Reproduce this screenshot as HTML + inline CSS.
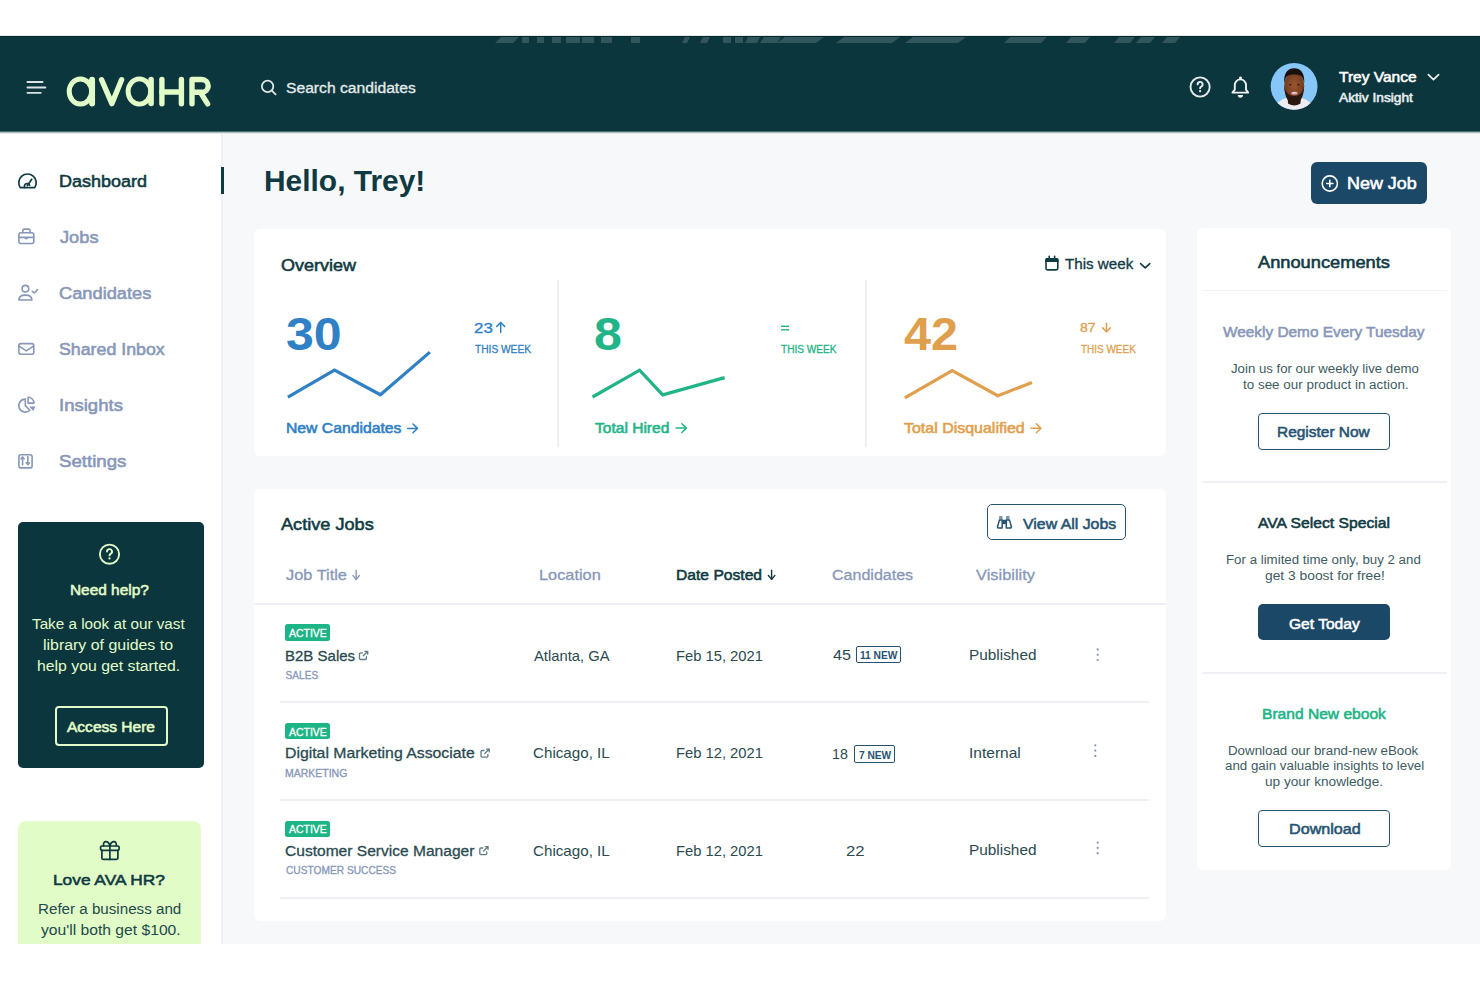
<!DOCTYPE html>
<html><head><meta charset="utf-8"><title>avaHR Dashboard</title>
<style>
*{margin:0;padding:0;box-sizing:border-box}
html,body{width:1480px;height:987px;overflow:hidden;background:#fff;font-family:"Liberation Sans",sans-serif}
.a{position:absolute}
.t{position:absolute;white-space:nowrap;line-height:1;transform-origin:0 0;font-family:"Liberation Sans",sans-serif}
svg.ov{position:absolute;left:0;top:0}
</style></head><body>
<!-- sidebar + main -->
<div class="a" style="left:0px;top:131px;width:221px;height:813px;background:#ffffff;border-radius:0px;"></div>
<div class="a" style="left:221px;top:131px;width:2px;height:813px;background:#eef0f4;border-radius:0px;"></div>
<div class="a" style="left:223px;top:131px;width:1257px;height:813px;background:#f7f8fa;border-radius:0px;"></div>
<!-- header -->
<div class="a" style="left:0px;top:36px;width:1480px;height:95px;background:#0c363d;border-radius:0px;"></div>
<div class="a" style="left:0px;top:35px;width:1480px;height:1px;background:#e4eaeb;border-radius:0px;"></div>
<div class="a" style="left:0px;top:36px;width:1480px;height:1px;background:#03292f;border-radius:0px;"></div>
<div class="a" style="left:0px;top:130px;width:1480px;height:1px;background:#08313a;border-radius:0px;"></div>
<div class="a" style="left:0px;top:131px;width:1480px;height:1px;background:#4b7176;border-radius:0px;"></div>
<div class="a" style="left:0px;top:132px;width:1480px;height:1px;background:#a9bbbe;border-radius:0px;"></div>
<div class="a" style="left:0px;top:133px;width:1480px;height:1px;background:#e6ebec;border-radius:0px;"></div>
<div class="a" style="left:254px;top:229px;width:912px;height:227px;background:#ffffff;border-radius:6px;"></div>
<div class="a" style="left:254px;top:489px;width:912px;height:432px;background:#ffffff;border-radius:6px;"></div>
<div class="a" style="left:1197px;top:228px;width:254px;height:642px;background:#ffffff;border-radius:6px;"></div>
<div class="a" style="left:18px;top:522px;width:186px;height:246px;background:#0c363d;border-radius:5px;"></div>
<div class="a" style="left:18px;top:821px;width:183px;height:123px;background:#e2fcc8;border-radius:8px;border-bottom-left-radius:0;border-bottom-right-radius:0"></div>
<div class="a" style="left:221px;top:167px;width:2.5px;height:27px;background:#0f3a42;border-radius:0px;"></div>
<div class="a" style="left:1311.4px;top:162.4px;width:115.8px;height:41.8px;background:#1c4868;border-radius:6px;"></div>
<div class="a" style="left:986.9px;top:504.2px;width:139.5px;height:36.3px;border:1.5px solid #275373;border-radius:5px"></div>
<div class="a" style="left:1258.4px;top:413px;width:131.6px;height:36.5px;border:1.5px solid #275373;border-radius:4px"></div>
<div class="a" style="left:1258.4px;top:603.6px;width:131.6px;height:36.8px;background:#1c4868;border-radius:5px;"></div>
<div class="a" style="left:1258.3px;top:810.3px;width:131.8px;height:36.6px;border:1.5px solid #275373;border-radius:4px"></div>
<div class="a" style="left:55.3px;top:706px;width:112.3px;height:40.1px;border:2px solid #e2fcc8;border-radius:4px"></div>
<div class="a" style="left:557.3px;top:280px;width:1.6px;height:167px;background:#eff0f5;border-radius:0px;"></div>
<div class="a" style="left:865.3px;top:280px;width:1.6px;height:167px;background:#eff0f5;border-radius:0px;"></div>
<div class="a" style="left:254px;top:602.5px;width:912px;height:2.8px;background:#eef0f5;border-radius:0px;"></div>
<div class="a" style="left:280px;top:701px;width:869px;height:2px;background:#eef0f5;border-radius:0px;"></div>
<div class="a" style="left:280px;top:799px;width:869px;height:2px;background:#eef0f5;border-radius:0px;"></div>
<div class="a" style="left:280px;top:897px;width:869px;height:2px;background:#eef0f5;border-radius:0px;"></div>
<div class="a" style="left:1202px;top:289.5px;width:245px;height:1.5px;background:#eff1f6;border-radius:0px;"></div>
<div class="a" style="left:1202px;top:481px;width:245px;height:1.5px;background:#eff1f6;border-radius:0px;"></div>
<div class="a" style="left:1202px;top:672px;width:245px;height:1.5px;background:#eff1f6;border-radius:0px;"></div>
<div class="a" style="left:285.2px;top:624.3px;width:44.7px;height:16.5px;background:#1db586;border-radius:2.5px;"></div>
<div class="a" style="left:285.2px;top:722.8px;width:44.7px;height:16.5px;background:#1db586;border-radius:2.5px;"></div>
<div class="a" style="left:285.2px;top:820.5px;width:44.7px;height:16.5px;background:#1db586;border-radius:2.5px;"></div>
<div class="a" style="left:856.1px;top:645.8px;width:45px;height:17px;border:1.3px solid #275373;border-radius:2px"></div>
<div class="a" style="left:853.9px;top:745.2px;width:40.7px;height:17.8px;border:1.3px solid #275373;border-radius:2px"></div>
<svg class="ov" width="1480" height="987" viewBox="0 0 1480 987">
<polygon points="501,37 519,37 513,43 495,43" fill="#ffffff" fill-opacity="0.16"/>
<polygon points="522,37 529,37 529,43 522,43" fill="#ffffff" fill-opacity="0.16"/>
<polygon points="537,37 544,37 544,43 537,43" fill="#ffffff" fill-opacity="0.16"/>
<polygon points="552,37 561,37 561,43 552,43" fill="#ffffff" fill-opacity="0.16"/>
<polygon points="566,37 580,37 580,43 566,43" fill="#ffffff" fill-opacity="0.16"/>
<polygon points="582,37 594,37 594,43 582,43" fill="#ffffff" fill-opacity="0.16"/>
<polygon points="601,37 612,37 612,43 601,43" fill="#ffffff" fill-opacity="0.16"/>
<polygon points="631,37 640,37 640,43 631,43" fill="#ffffff" fill-opacity="0.16"/>
<polygon points="685,37 690,37 687,43 682,43" fill="#ffffff" fill-opacity="0.16"/>
<polygon points="703,37 710,37 707,43 700,43" fill="#ffffff" fill-opacity="0.16"/>
<polygon points="723,37 731,37 731,43 723,43" fill="#ffffff" fill-opacity="0.16"/>
<polygon points="735,37 743,37 743,43 735,43" fill="#ffffff" fill-opacity="0.16"/>
<polygon points="748,37 760,37 757,43 745,43" fill="#ffffff" fill-opacity="0.16"/>
<polygon points="764,37 781,37 777,43 760,43" fill="#ffffff" fill-opacity="0.16"/>
<polygon points="785,37 824,37 816,43 777,43" fill="#ffffff" fill-opacity="0.16"/>
<polygon points="844,37 900,37 892,43 836,43" fill="#ffffff" fill-opacity="0.16"/>
<polygon points="913,37 966,37 958,43 905,43" fill="#ffffff" fill-opacity="0.16"/>
<polygon points="1010,37 1047,37 1041,43 1004,43" fill="#ffffff" fill-opacity="0.16"/>
<polygon points="1071,37 1090,37 1085,43 1066,43" fill="#ffffff" fill-opacity="0.16"/>
<polygon points="1119,37 1135,37 1130,43 1114,43" fill="#ffffff" fill-opacity="0.16"/>
<polygon points="1141,37 1155,37 1150,43 1136,43" fill="#ffffff" fill-opacity="0.16"/>
<polygon points="1167,37 1180,37 1175,43 1162,43" fill="#ffffff" fill-opacity="0.16"/>
<g stroke="#dde2e5" stroke-width="1.8" stroke-linecap="round"><line x1="27.4" y1="82" x2="42.6" y2="82"/><line x1="27.4" y1="87.5" x2="45.4" y2="87.5"/><line x1="27.4" y1="92.8" x2="40.8" y2="92.8"/></g>
<g fill="none" stroke="#e2fcc8" stroke-linecap="round" stroke-linejoin="round">
<ellipse cx="80.4" cy="91.5" rx="11.2" ry="12.6" stroke-width="5"/>
<line x1="92.1" y1="79.6" x2="92.1" y2="103.6" stroke-width="5.9"/>
<polyline points="101.6,79.7 111.9,103.6 121.6,79.7" stroke-width="5.4"/>
<ellipse cx="139.4" cy="91.5" rx="11.3" ry="12.6" stroke-width="4.9"/>
<line x1="151.1" y1="79.6" x2="151.1" y2="103.6" stroke-width="5.5"/>
<line x1="161.9" y1="79.5" x2="161.9" y2="103.8" stroke-width="5.4"/>
<line x1="181.4" y1="79.5" x2="181.4" y2="103.8" stroke-width="5.4"/>
<line x1="161.9" y1="92" x2="181.4" y2="92" stroke-width="5.4"/>
<path d="M192 103.8 V79.5 H201.8 A6.4 6.4 0 0 1 201.8 92.3 H192 M200.5 92.3 L207.6 103.8" stroke-width="5.4"/>
</g>
<g fill="none" stroke="#dfe5e7" stroke-width="1.8" stroke-linecap="round"><circle cx="267.6" cy="86.4" r="5.7"/><line x1="271.8" y1="90.6" x2="275.6" y2="94.4"/></g>
<g fill="none" stroke="#e6ecee" stroke-width="1.9" stroke-linecap="round"><circle cx="1200.1" cy="87" r="9.6"/><path d="M1197.6 84.4 a2.5 2.5 0 1 1 3.7 2.2 c-.85 .45 -1.2 .9 -1.2 1.6"/></g><circle cx="1200.1" cy="91.2" r="1.15" fill="#e6ecee"/>
<g fill="none" stroke="#eef2f3" stroke-width="1.9" stroke-linejoin="round"><path d="M1232.4 92.6 H1248.2 L1246 89.6 V85 A5.6 5.6 0 0 0 1234.8 85 V89.6 Z"/></g><rect x="1239.2" y="76.4" width="2.6" height="3.2" rx="1.2" fill="#eef2f3"/><path d="M1237.8 95.1 H1243 A2.6 2.6 0 0 1 1237.8 95.1 Z" fill="#eef2f3"/>
<defs><clipPath id="av"><circle cx="1294.1" cy="86.35" r="23.4"/></clipPath>
<radialGradient id="face" cx="50%" cy="45%" r="60%"><stop offset="0" stop-color="#9b5530"/><stop offset="1" stop-color="#6a361c"/></radialGradient></defs>
<circle cx="1294.1" cy="86.35" r="23.4" fill="#87c6f8"/>
<g clip-path="url(#av)">
<ellipse cx="1294" cy="114.5" rx="22" ry="17.5" fill="#efedef"/>
<path d="M1287.5 94 L1301 94 L1300.5 103.5 Q1294.2 107.5 1288 103.5 Z" fill="#2e1a12"/>
<ellipse cx="1294.2" cy="86.2" rx="10" ry="13.6" fill="url(#face)"/>
<path d="M1284.1 83 C1283.8 72.5 1287.8 68.2 1294.2 68.2 C1300.6 68.2 1304.6 72.5 1304.3 83 L1303.2 79.5 C1301.5 75.2 1298.5 74.6 1294.2 74.6 C1289.9 74.6 1286.9 75.2 1285.2 79.5 Z" fill="#1a110e"/>
<path d="M1284.3 86 C1284.5 97.5 1288.2 103.6 1294.2 103.6 C1300.2 103.6 1303.9 97.5 1304.1 86 C1302.8 92.8 1299.4 96 1294.2 96 C1289 96 1285.6 92.8 1284.3 86 Z" fill="#2a170f"/>
<ellipse cx="1294.4" cy="93.3" rx="3.6" ry="1.9" fill="#b77272"/>
<ellipse cx="1294.4" cy="92.9" rx="2.8" ry="0.9" fill="#e0d8da"/>
<ellipse cx="1290.2" cy="84.8" rx="1.2" ry="0.7" fill="#2a170f"/>
<ellipse cx="1298.4" cy="84.8" rx="1.2" ry="0.7" fill="#2a170f"/>
</g>
<polyline points="1428.4,74.6 1433.5,79.6 1438.6,74.6" fill="none" stroke="#f0f3f4" stroke-width="1.7" stroke-linecap="round" stroke-linejoin="round"/>
<g fill="none" stroke="#0f3a42" stroke-width="1.7" stroke-linecap="round" stroke-linejoin="round">
<path d="M20.3 187.6 A8.7 8.7 0 1 1 34.7 187.6 Z"/>
<line x1="27.4" y1="185.6" x2="31.7" y2="179.3"/>
<path d="M24.6 187.4 A2.7 2.7 0 0 1 29.6 185.2"/>
</g>
<g fill="none" stroke="#8797b9" stroke-width="1.6" stroke-linecap="round" stroke-linejoin="round">
<rect x="18.9" y="232.8" width="14.9" height="10.7" rx="2"/>
<path d="M22.8 232.8 V230.6 a1.5 1.5 0 0 1 1.5 -1.5 H28.6 a1.5 1.5 0 0 1 1.5 1.5 V232.8"/>
<line x1="18.9" y1="237.4" x2="33.8" y2="237.4"/>
<path d="M24.9 237.6 Q26.3 239.6 27.9 237.6"/>
<circle cx="25.4" cy="288.7" r="3.3"/>
<path d="M18.9 300 Q18.9 295.1 25.4 295.1 Q31.9 295.1 31.9 300 Z"/>
<path d="M32.3 291.3 L34.4 293 L37.5 289.5"/>
<rect x="18.9" y="343.6" width="14.9" height="10.7" rx="2"/>
<path d="M19.6 346.4 L26.3 350.9 L33.1 346.4"/>
<path d="M25.3 405.6 V399.1 A6.5 6.5 0 1 0 29.9 410.2 Z"/>
<path d="M28.1 403.1 V397.3 A5.9 5.9 0 0 1 34 403.1 Z"/>
<rect x="18.9" y="454.7" width="13.2" height="13.2" rx="2"/>
<line x1="22.6" y1="464.8" x2="22.6" y2="457.2"/><path d="M21.1 458.8 L22.6 457 L24.1 458.8"/>
<line x1="27.8" y1="456.6" x2="27.8" y2="464.4"/><path d="M26.3 462.8 L27.8 464.6 L29.3 462.8"/>
</g>
<polygon points="29.1,406.5 35.6,406.5 33.2,411.1" fill="#8797b9"/>
<g fill="none" stroke="#e2fcc8" stroke-width="1.9" stroke-linecap="round"><circle cx="109.5" cy="554.2" r="9.6"/><path d="M107.0 551.6 a2.5 2.5 0 1 1 3.7 2.2 c-.85 .45 -1.2 .9 -1.2 1.6"/></g><circle cx="109.5" cy="558.4000000000001" r="1.15" fill="#e2fcc8"/>
<g fill="none" stroke="#0f3a42" stroke-width="1.7" stroke-linecap="round" stroke-linejoin="round">
<rect x="100.6" y="846" width="18.5" height="4.3" rx="1.2"/>
<path d="M101.9 850.3 V857.9 a1.5 1.5 0 0 0 1.5 1.5 H116.4 a1.5 1.5 0 0 0 1.5 -1.5 V850.3"/>
<line x1="109.9" y1="846" x2="109.9" y2="859.3"/>
<path d="M109.9 846 C108.5 840.3 102.6 840.2 103.6 845.8"/>
<path d="M109.9 846 C111.3 840.3 117.2 840.2 116.2 845.8"/>
</g>
<g fill="none" stroke="#ffffff" stroke-width="1.6" stroke-linecap="round"><circle cx="1329.8" cy="183.5" r="7.6"/><line x1="1326.7" y1="183.5" x2="1332.9" y2="183.5"/><line x1="1329.8" y1="180.4" x2="1329.8" y2="186.6"/></g>
<g fill="none" stroke="#0f3a42" stroke-width="1.6" stroke-linecap="round">
<rect x="1046" y="258.8" width="11.8" height="11.1" rx="1.6"/>
<line x1="1049.2" y1="256.4" x2="1049.2" y2="259"/><line x1="1054.6" y1="256.4" x2="1054.6" y2="259"/></g>
<path d="M1045.2 262 V260 a2 2 0 0 1 2 -2 H1056.6 a2 2 0 0 1 2 2 V262 Z" fill="#0f3a42"/>
<polyline points="1140.6,263.6 1145.2,267.9 1149.8,263.6" fill="none" stroke="#0f3a42" stroke-width="1.6" stroke-linecap="round" stroke-linejoin="round"/>
<g fill="none" stroke="#2f80c4" stroke-width="1.5" stroke-linecap="round" stroke-linejoin="round"><line x1="407.70000000000005" y1="428.4" x2="417.4" y2="428.4"/><polyline points="413,424.0 417.4,428.4 413,432.79999999999995"/></g>
<g fill="none" stroke="#20b487" stroke-width="1.5" stroke-linecap="round" stroke-linejoin="round"><line x1="676.1" y1="428.1" x2="686.3" y2="428.1"/><polyline points="681.9,423.70000000000005 686.3,428.1 681.9,432.5"/></g>
<g fill="none" stroke="#e09f4c" stroke-width="1.5" stroke-linecap="round" stroke-linejoin="round"><line x1="1030.8999999999999" y1="428.3" x2="1040.8000000000002" y2="428.3"/><polyline points="1036.4,423.90000000000003 1040.8000000000002,428.3 1036.4,432.7"/></g>
<g fill="none" stroke="#2f80c4" stroke-width="1.5" stroke-linecap="round" stroke-linejoin="round"><line x1="500.7" y1="332.4" x2="500.7" y2="322.5"/><polyline points="496.8,326.4 500.7,322.5 504.59999999999997,326.4"/></g>
<g fill="none" stroke="#e09f4c" stroke-width="1.5" stroke-linecap="round" stroke-linejoin="round"><line x1="1106.5" y1="323.3" x2="1106.5" y2="331.79999999999995"/><polyline points="1102.6,327.9 1106.5,331.79999999999995 1110.4,327.9"/></g>
<g fill="none" stroke="#8797b9" stroke-width="1.4" stroke-linecap="round" stroke-linejoin="round"><line x1="356.2" y1="570.1" x2="356.2" y2="579.4"/><polyline points="353.0,575.5 356.2,579.4 359.4,575.5"/></g>
<g fill="none" stroke="#0f3a42" stroke-width="1.4" stroke-linecap="round" stroke-linejoin="round"><line x1="771.6" y1="570.1" x2="771.6" y2="579.4"/><polyline points="768.4,575.5 771.6,579.4 774.8000000000001,575.5"/></g>
<g stroke="#20b487" stroke-width="1.4"><line x1="781" y1="326.3" x2="789" y2="326.3"/><line x1="781" y1="329.8" x2="789" y2="329.8"/></g>
<polyline points="287.9,397.2 334.5,370.2 380.4,394.7 429.9,352.1" fill="none" stroke="#2f80c4" stroke-width="3.2"/>
<polyline points="592.5,397 639.6,370.2 662.7,394.9 724.6,377.6" fill="none" stroke="#20b487" stroke-width="3.2"/>
<polyline points="904.8,397.9 952.2,370.5 997.8,395.7 1032,382.5" fill="none" stroke="#e09f4c" stroke-width="3.2"/>
<g fill="none" stroke="#275373" stroke-width="1.5" stroke-linejoin="round">
<path d="M997.5 526.6 Q997.3 528 998.9 528 H1002.2 V520 H999.5 Z"/>
<path d="M1011.4 526.6 Q1011.6 528 1010 528 H1006.3 V520 H1009.4 Z"/>
</g><rect x="1002.2" y="519.8" width="4.1" height="4.3" fill="#275373"/>
<rect x="999" y="515.9" width="3.5" height="3.6" rx="0.6" fill="#275373" fill-opacity="0.6"/>
<rect x="1006" y="515.9" width="3.5" height="3.6" rx="0.6" fill="#275373" fill-opacity="0.6"/>
<g fill="none" stroke="#5f7b82" stroke-width="1.3" stroke-linecap="round" stroke-linejoin="round"><path d="M362.4 652.8000000000001 H360.59999999999997 a1.1 1.1 0 0 0 -1.1 1.1 V658.4000000000001 a1.1 1.1 0 0 0 1.1 1.1 H365.29999999999995 a1.1 1.1 0 0 0 1.1 -1.1 V656.6"/><line x1="363.29999999999995" y1="655.8000000000001" x2="367.59999999999997" y2="651.6"/><polyline points="365.0,651.5 367.7,651.5 367.7,654.2"/></g>
<g fill="none" stroke="#5f7b82" stroke-width="1.3" stroke-linecap="round" stroke-linejoin="round"><path d="M483.9 750.5 H482.09999999999997 a1.1 1.1 0 0 0 -1.1 1.1 V756.1 a1.1 1.1 0 0 0 1.1 1.1 H486.79999999999995 a1.1 1.1 0 0 0 1.1 -1.1 V754.3"/><line x1="484.79999999999995" y1="753.5" x2="489.09999999999997" y2="749.3"/><polyline points="486.5,749.1999999999999 489.2,749.1999999999999 489.2,751.9"/></g>
<g fill="none" stroke="#5f7b82" stroke-width="1.3" stroke-linecap="round" stroke-linejoin="round"><path d="M482.7 848.0 H480.9 a1.1 1.1 0 0 0 -1.1 1.1 V853.6 a1.1 1.1 0 0 0 1.1 1.1 H485.59999999999997 a1.1 1.1 0 0 0 1.1 -1.1 V851.8"/><line x1="483.59999999999997" y1="851.0" x2="487.9" y2="846.8"/><polyline points="485.3,846.6999999999999 488.0,846.6999999999999 488.0,849.4"/></g>
<circle cx="1097.7" cy="649.5" r="1.15" fill="#8797b9"/>
<circle cx="1097.7" cy="654.8" r="1.15" fill="#8797b9"/>
<circle cx="1097.7" cy="660.0999999999999" r="1.15" fill="#8797b9"/>
<circle cx="1095.3" cy="745.3000000000001" r="1.15" fill="#8797b9"/>
<circle cx="1095.3" cy="750.6" r="1.15" fill="#8797b9"/>
<circle cx="1095.3" cy="755.9" r="1.15" fill="#8797b9"/>
<circle cx="1097.7" cy="842.6" r="1.15" fill="#8797b9"/>
<circle cx="1097.7" cy="847.9" r="1.15" fill="#8797b9"/>
<circle cx="1097.7" cy="853.1999999999999" r="1.15" fill="#8797b9"/>
</svg>
<div class="t" style="left:286.1px;top:81px;font-size:14.04px;font-weight:400;-webkit-text-stroke:0.3px #e3eaeb;transform:scaleX(1.1165);color:#e3eaeb">Search candidates</div>
<div class="t" style="left:1338.9px;top:70px;font-size:14.77px;font-weight:400;-webkit-text-stroke:0.55px #ffffff;transform:scaleX(1.0513);color:#ffffff">Trey Vance</div>
<div class="t" style="left:1338.5px;top:93px;font-size:11.86px;font-weight:400;-webkit-text-stroke:0.55px #e6ecee;transform:scaleX(1.1563);color:#e6ecee">Aktiv Insight</div>
<div class="t" style="left:59.0px;top:174px;font-size:16.8px;font-weight:400;-webkit-text-stroke:0.55px #0f3a42;transform:scaleX(1.0726);color:#0f3a42">Dashboard</div>
<div class="t" style="left:60.0px;top:230px;font-size:16.8px;font-weight:400;-webkit-text-stroke:0.55px #8797b9;transform:scaleX(1.0857);color:#8797b9">Jobs</div>
<div class="t" style="left:59.0px;top:286px;font-size:16.8px;font-weight:400;-webkit-text-stroke:0.55px #8797b9;transform:scaleX(1.0881);color:#8797b9">Candidates</div>
<div class="t" style="left:59.0px;top:342px;font-size:16.8px;font-weight:400;-webkit-text-stroke:0.55px #8797b9;transform:scaleX(1.0585);color:#8797b9">Shared Inbox</div>
<div class="t" style="left:59.0px;top:398px;font-size:16.8px;font-weight:400;-webkit-text-stroke:0.55px #8797b9;transform:scaleX(1.1053);color:#8797b9">Insights</div>
<div class="t" style="left:59.0px;top:454px;font-size:16.8px;font-weight:400;-webkit-text-stroke:0.55px #8797b9;transform:scaleX(1.1121);color:#8797b9">Settings</div>
<div class="t" style="left:70.1px;top:583px;font-size:14.77px;font-weight:400;-webkit-text-stroke:0.55px #e2fcc8;transform:scaleX(1.0433);color:#e2fcc8">Need help?</div>
<div class="t" style="left:32.4px;top:618px;font-size:13.95px;font-weight:400;transform:scaleX(1.0951);color:#e2fcc8">Take a look at our vast</div>
<div class="t" style="left:43.3px;top:639px;font-size:13.95px;font-weight:400;transform:scaleX(1.1416);color:#e2fcc8">library of guides to</div>
<div class="t" style="left:36.7px;top:660px;font-size:13.95px;font-weight:400;transform:scaleX(1.1339);color:#e2fcc8">help you get started.</div>
<div class="t" style="left:67.4px;top:720px;font-size:14.04px;font-weight:400;-webkit-text-stroke:0.55px #e2fcc8;transform:scaleX(1.1065);color:#e2fcc8">Access Here</div>
<div class="t" style="left:53.0px;top:872px;font-size:15.06px;font-weight:400;-webkit-text-stroke:0.55px #0f3a42;transform:scaleX(1.15);color:#0f3a42">Love AVA HR?</div>
<div class="t" style="left:38.1px;top:903px;font-size:13.95px;font-weight:400;transform:scaleX(1.0878);color:#234a4c">Refer a business and</div>
<div class="t" style="left:40.5px;top:924px;font-size:13.95px;font-weight:400;transform:scaleX(1.1235);color:#234a4c">you&#x27;ll both get $100.</div>
<div class="t" style="left:263.9px;top:165px;font-size:30.38px;font-weight:700;transform:scaleX(0.9848);color:#0f3a42">Hello, Trey!</div>
<div class="t" style="left:1346.8px;top:175px;font-size:16.22px;font-weight:400;-webkit-text-stroke:0.55px #ffffff;transform:scaleX(1.1066);color:#ffffff">New Job</div>
<div class="t" style="left:280.6px;top:257px;font-size:16.22px;font-weight:400;-webkit-text-stroke:0.55px #0f3a42;transform:scaleX(1.1089);color:#0f3a42">Overview</div>
<div class="t" style="left:1064.7px;top:257px;font-size:14.33px;font-weight:400;-webkit-text-stroke:0.3px #0f3a42;transform:scaleX(1.0586);color:#0f3a42">This week</div>
<div class="t" style="left:286.4px;top:312px;font-size:45.35px;font-weight:700;transform:scaleX(1.1044);color:#2f80c4">30</div>
<div class="t" style="left:474.0px;top:320px;font-size:15.06px;font-weight:400;-webkit-text-stroke:0.3px #2f80c4;transform:scaleX(1.1269);color:#2f80c4">23</div>
<div class="t" style="left:475.4px;top:344px;font-size:10.99px;font-weight:400;-webkit-text-stroke:0.3px #2f80c4;transform:scaleX(0.9267);color:#2f80c4">THIS WEEK</div>
<div class="t" style="left:285.5px;top:421px;font-size:14.19px;font-weight:400;-webkit-text-stroke:0.55px #2f80c4;transform:scaleX(1.1087);color:#2f80c4">New Candidates</div>
<div class="t" style="left:593.5px;top:312px;font-size:45.35px;font-weight:700;transform:scaleX(1.1057);color:#20b487">8</div>
<div class="t" style="left:780.5px;top:344px;font-size:10.99px;font-weight:400;-webkit-text-stroke:0.3px #20b487;transform:scaleX(0.9202);color:#20b487">THIS WEEK</div>
<div class="t" style="left:594.8px;top:421px;font-size:14.19px;font-weight:400;-webkit-text-stroke:0.55px #20b487;transform:scaleX(1.0957);color:#20b487">Total Hired</div>
<div class="t" style="left:903.6px;top:312px;font-size:45.35px;font-weight:700;transform:scaleX(1.0709);color:#e09f4c">42</div>
<div class="t" style="left:1080.0px;top:321px;font-size:13.17px;font-weight:400;-webkit-text-stroke:0.3px #e09f4c;transform:scaleX(1.0714);color:#e09f4c">87</div>
<div class="t" style="left:1080.6px;top:344px;font-size:10.99px;font-weight:400;-webkit-text-stroke:0.3px #e09f4c;transform:scaleX(0.9069);color:#e09f4c">THIS WEEK</div>
<div class="t" style="left:903.6px;top:421px;font-size:14.19px;font-weight:400;-webkit-text-stroke:0.55px #e09f4c;transform:scaleX(1.1253);color:#e09f4c">Total Disqualified</div>
<div class="t" style="left:280.8px;top:517px;font-size:16.95px;font-weight:400;-webkit-text-stroke:0.55px #0f3a42;transform:scaleX(1.0714);color:#0f3a42">Active Jobs</div>
<div class="t" style="left:1022.6px;top:516px;font-size:15.06px;font-weight:400;-webkit-text-stroke:0.55px #275373;transform:scaleX(1.0547);color:#275373">View All Jobs</div>
<div class="t" style="left:285.7px;top:567px;font-size:15.35px;font-weight:400;-webkit-text-stroke:0.3px #8797b9;transform:scaleX(1.0666);color:#8797b9">Job Title</div>
<div class="t" style="left:538.9px;top:567px;font-size:15.35px;font-weight:400;-webkit-text-stroke:0.3px #8797b9;transform:scaleX(1.0642);color:#8797b9">Location</div>
<div class="t" style="left:676.0px;top:567px;font-size:15.06px;font-weight:400;-webkit-text-stroke:0.55px #0f3a42;transform:scaleX(1.0394);color:#0f3a42">Date Posted</div>
<div class="t" style="left:831.6px;top:567px;font-size:15.35px;font-weight:400;-webkit-text-stroke:0.3px #8797b9;transform:scaleX(1.0449);color:#8797b9">Candidates</div>
<div class="t" style="left:975.7px;top:567px;font-size:15.35px;font-weight:400;-webkit-text-stroke:0.3px #8797b9;transform:scaleX(1.0692);color:#8797b9">Visibility</div>
<div class="t" style="left:288.9px;top:629px;font-size:10.26px;font-weight:400;-webkit-text-stroke:0.3px #ffffff;transform:scaleX(1.0219);color:#ffffff">ACTIVE</div>
<div class="t" style="left:284.6px;top:648px;font-size:15.06px;font-weight:400;-webkit-text-stroke:0.3px #2a4a50;transform:scaleX(0.9972);color:#2a4a50">B2B Sales</div>
<div class="t" style="left:285.6px;top:671px;font-size:10.12px;font-weight:400;-webkit-text-stroke:0.3px #8797b9;color:#8797b9">SALES</div>
<div class="t" style="left:533.6px;top:648px;font-size:15.41px;font-weight:400;transform:scaleX(0.9595);color:#2a4a50">Atlanta, GA</div>
<div class="t" style="left:676.0px;top:648px;font-size:15.41px;font-weight:400;transform:scaleX(0.9574);color:#2a4a50">Feb 15, 2021</div>
<div class="t" style="left:968.6px;top:647px;font-size:15.41px;font-weight:400;transform:scaleX(0.997);color:#2a4a50">Published</div>
<div class="t" style="left:288.9px;top:728px;font-size:10.26px;font-weight:400;-webkit-text-stroke:0.3px #ffffff;transform:scaleX(1.0219);color:#ffffff">ACTIVE</div>
<div class="t" style="left:284.6px;top:745px;font-size:15.06px;font-weight:400;-webkit-text-stroke:0.3px #2a4a50;transform:scaleX(1.0503);color:#2a4a50">Digital Marketing Associate</div>
<div class="t" style="left:284.6px;top:769px;font-size:10.12px;font-weight:400;-webkit-text-stroke:0.3px #8797b9;transform:scaleX(1.0374);color:#8797b9">MARKETING</div>
<div class="t" style="left:532.6px;top:745px;font-size:15.41px;font-weight:400;transform:scaleX(0.9844);color:#2a4a50">Chicago, IL</div>
<div class="t" style="left:676.0px;top:745px;font-size:15.41px;font-weight:400;transform:scaleX(0.9574);color:#2a4a50">Feb 12, 2021</div>
<div class="t" style="left:968.6px;top:745px;font-size:15.41px;font-weight:400;transform:scaleX(1.008);color:#2a4a50">Internal</div>
<div class="t" style="left:288.9px;top:825px;font-size:10.26px;font-weight:400;-webkit-text-stroke:0.3px #ffffff;transform:scaleX(1.0219);color:#ffffff">ACTIVE</div>
<div class="t" style="left:284.6px;top:843px;font-size:15.06px;font-weight:400;-webkit-text-stroke:0.3px #2a4a50;transform:scaleX(1.034);color:#2a4a50">Customer Service Manager</div>
<div class="t" style="left:285.6px;top:866px;font-size:10.12px;font-weight:400;-webkit-text-stroke:0.3px #8797b9;transform:scaleX(1.0073);color:#8797b9">CUSTOMER SUCCESS</div>
<div class="t" style="left:532.6px;top:843px;font-size:15.41px;font-weight:400;transform:scaleX(0.9844);color:#2a4a50">Chicago, IL</div>
<div class="t" style="left:676.0px;top:843px;font-size:15.41px;font-weight:400;transform:scaleX(0.9574);color:#2a4a50">Feb 12, 2021</div>
<div class="t" style="left:968.6px;top:842px;font-size:15.41px;font-weight:400;transform:scaleX(0.997);color:#2a4a50">Published</div>
<div class="t" style="left:833.2px;top:647px;font-size:15.41px;font-weight:400;transform:scaleX(1.0479);color:#2a4a50">45</div>
<div class="t" style="left:832.2px;top:746px;font-size:15.41px;font-weight:400;transform:scaleX(0.9261);color:#2a4a50">18</div>
<div class="t" style="left:846.4px;top:843px;font-size:15.41px;font-weight:400;transform:scaleX(1.0809);color:#2a4a50">22</div>
<div class="t" style="left:1258.4px;top:254px;font-size:16.51px;font-weight:400;-webkit-text-stroke:0.55px #0f3a42;transform:scaleX(1.106);color:#0f3a42">Announcements</div>
<div class="t" style="left:1222.8px;top:324px;font-size:15.35px;font-weight:400;-webkit-text-stroke:0.55px #8797b9;transform:scaleX(1.003);color:#8797b9">Weekly Demo Every Tuesday</div>
<div class="t" style="left:1231.4px;top:363px;font-size:12.21px;font-weight:400;transform:scaleX(1.0819);color:#3d5c61">Join us for our weekly live demo</div>
<div class="t" style="left:1242.9px;top:379px;font-size:12.21px;font-weight:400;transform:scaleX(1.1);color:#3d5c61">to see our product in action.</div>
<div class="t" style="left:1277.0px;top:425px;font-size:14.62px;font-weight:400;-webkit-text-stroke:0.55px #275373;transform:scaleX(1.0575);color:#275373">Register Now</div>
<div class="t" style="left:1258.4px;top:516px;font-size:14.77px;font-weight:400;-webkit-text-stroke:0.55px #0f3a42;transform:scaleX(1.0629);color:#0f3a42">AVA Select Special</div>
<div class="t" style="left:1226.4px;top:554px;font-size:12.21px;font-weight:400;transform:scaleX(1.0892);color:#3d5c61">For a limited time only, buy 2 and</div>
<div class="t" style="left:1264.6px;top:570px;font-size:12.21px;font-weight:400;transform:scaleX(1.1316);color:#3d5c61">get 3 boost for free!</div>
<div class="t" style="left:1289.0px;top:617px;font-size:14.62px;font-weight:400;-webkit-text-stroke:0.55px #ffffff;transform:scaleX(1.0658);color:#ffffff">Get Today</div>
<div class="t" style="left:1261.5px;top:707px;font-size:14.48px;font-weight:400;-webkit-text-stroke:0.55px #20b487;transform:scaleX(1.0771);color:#20b487">Brand New ebook</div>
<div class="t" style="left:1228.3px;top:745px;font-size:12.21px;font-weight:400;transform:scaleX(1.0914);color:#3d5c61">Download our brand-new eBook</div>
<div class="t" style="left:1225.0px;top:760px;font-size:12.21px;font-weight:400;transform:scaleX(1.0916);color:#3d5c61">and gain valuable insights to level</div>
<div class="t" style="left:1265.4px;top:776px;font-size:12.21px;font-weight:400;transform:scaleX(1.1154);color:#3d5c61">up your knowledge.</div>
<div class="t" style="left:1288.5px;top:822px;font-size:14.62px;font-weight:400;-webkit-text-stroke:0.55px #275373;transform:scaleX(1.1047);color:#275373">Download</div>
<div class="t" style="left:859.5px;top:649px;font-size:11.77px;font-weight:700;transform:scaleX(0.8667);color:#275373">11 NEW</div>
<div class="t" style="left:858.5px;top:749px;font-size:11.77px;font-weight:700;transform:scaleX(0.8649);color:#275373">7 NEW</div>
</body></html>
